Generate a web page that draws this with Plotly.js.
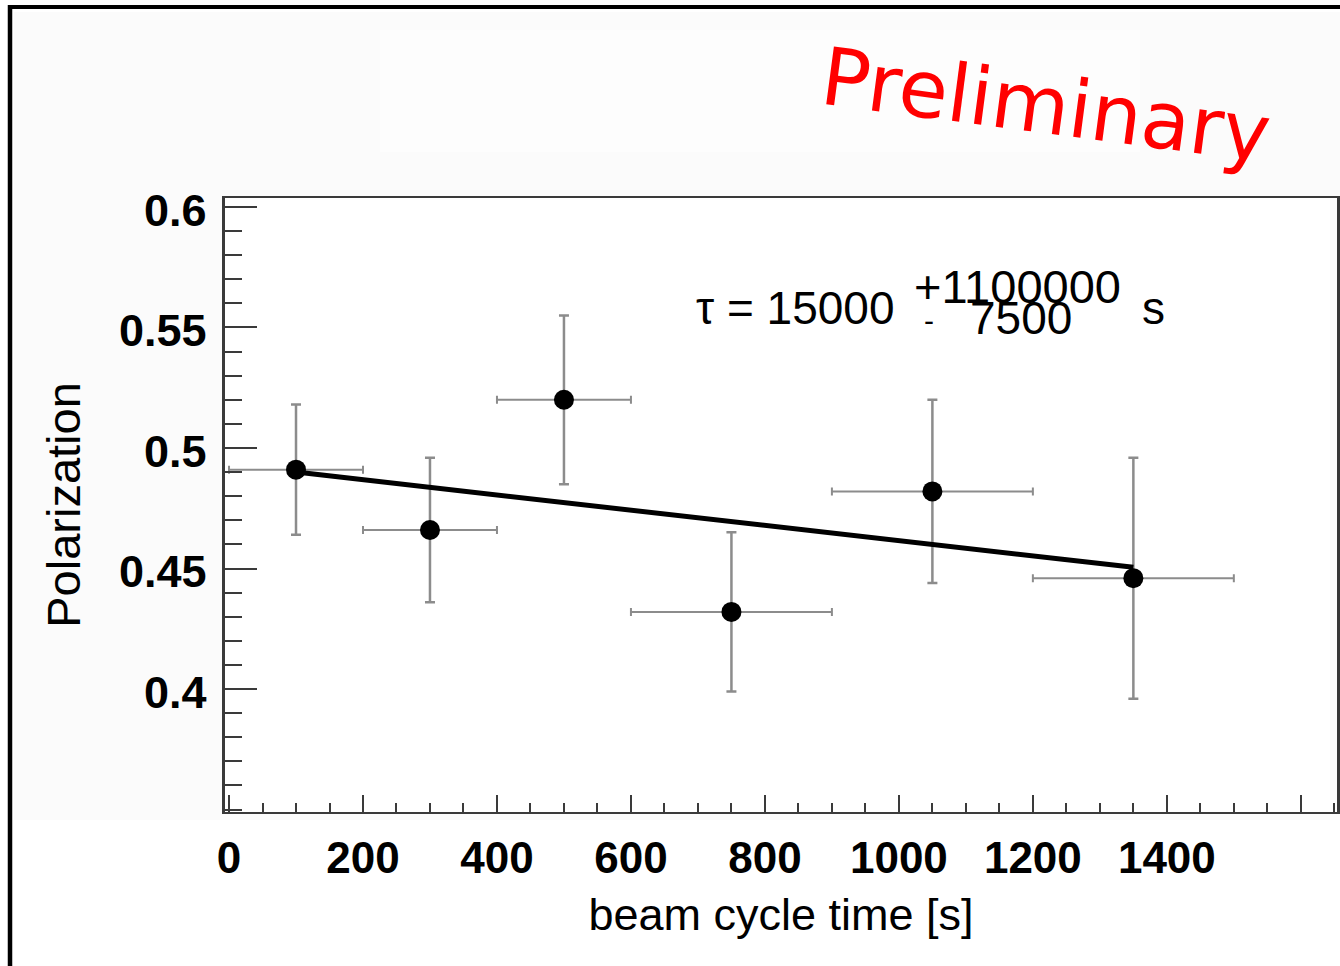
<!DOCTYPE html>
<html>
<head>
<meta charset="utf-8">
<script src="https://cdn.plot.ly/plotly-3.0.1.min.js"></script>
<style>
  html, body { margin: 0; padding: 0; background: #ffffff; }
  #chart { width: 1340px; height: 966px; }
</style>
</head>
<body>
<div id="chart"></div>
<script>
// ---- data ----
const cycleTime = [100, 300, 500, 750, 1050, 1350];          // bin centres [s]
const cycleHalfWidth = [100, 100, 100, 150, 150, 150];       // half bin widths [s]
const polarization = [0.491, 0.466, 0.520, 0.432, 0.482, 0.446];
const polarizationErr = [0.027, 0.030, 0.035, 0.033, 0.038, 0.050];

const fitTime = [100, 1350];
const fitPolarization = [0.490, 0.4505];

const xTickVals = [0, 200, 400, 600, 800, 1000, 1200, 1400, 1600];
const xTickText = ['0', '200', '400', '600', '800', '1000', '1200', '1400', ''];
const yTickVals = [0.4, 0.45, 0.5, 0.55, 0.6];
const yTickText = ['0.4', '0.45', '0.5', '0.55', '0.6'];

// ---- layout helpers (pixel -> paper) ----
const L = 225, R = 1337, T = 198, B = 812;
const px = v => (v - L) / (R - L);
const py = v => (B - v) / (B - T);

const axisColor = '#3a3a3a';
const sans = 'Liberation Sans, Arial, Helvetica, sans-serif';

const traces = [
  {
    x: cycleTime,
    y: polarization,
    type: 'scatter',
    mode: 'markers',
    marker: { color: '#000000', size: 20, symbol: 'circle' },
    error_x: { type: 'data', array: cycleHalfWidth, visible: true, color: '#8c8c8c', thickness: 2, width: 4 },
    error_y: { type: 'data', array: polarizationErr, visible: true, color: '#8c8c8c', thickness: 2.5, width: 5 },
    showlegend: false,
    hoverinfo: 'x+y'
  },
  {
    x: fitTime,
    y: fitPolarization,
    type: 'scatter',
    mode: 'lines',
    line: { color: '#000000', width: 5 },
    showlegend: false,
    hoverinfo: 'skip'
  }
];

const layout = {
  width: 1340,
  height: 966,
  margin: { l: L, r: 1340 - R, t: T, b: 966 - B, pad: 0 },
  paper_bgcolor: '#ffffff',
  plot_bgcolor: '#ffffff',
  showlegend: false,
  font: { family: sans, color: '#000000' },
  xaxis: {
    range: [-6, 1654],
    tickmode: 'array',
    tickvals: xTickVals,
    ticktext: xTickText,
    ticks: 'inside',
    ticklen: 17,
    tickwidth: 2,
    tickcolor: axisColor,
    minor: { dtick: 50, ticks: 'inside', ticklen: 9, tickwidth: 2, tickcolor: axisColor, showgrid: false },
    tickfont: { family: sans, size: 44, weight: 'bold', color: '#000000' },
    ticklabelstandoff: 6,
    showline: true,
    linecolor: axisColor,
    linewidth: 2,
    mirror: true,
    showgrid: false,
    zeroline: false,
    title: { text: 'beam cycle time [s]', font: { family: sans, size: 45, color: '#000000' }, standoff: 18 },
    automargin: false
  },
  yaxis: {
    range: [0.349, 0.6037],
    tickmode: 'array',
    tickvals: yTickVals,
    ticktext: yTickText,
    ticks: 'inside',
    ticklen: 32,
    tickwidth: 2,
    tickcolor: axisColor,
    minor: { dtick: 0.01, ticks: 'inside', ticklen: 17, tickwidth: 2, tickcolor: axisColor, showgrid: false },
    tickfont: { family: sans, size: 45, weight: 'bold', color: '#000000' },
    ticklabelstandoff: 6,
    ticklabelshift: 3,
    showline: true,
    linecolor: axisColor,
    linewidth: 3.5,
    mirror: true,
    showgrid: false,
    zeroline: false,
    title: { text: 'Polarization', font: { family: sans, size: 47, color: '#000000' }, standoff: 24 },
    automargin: false
  },
  shapes: [
    // faint canvas background
    { type: 'rect', xref: 'paper', yref: 'paper', x0: px(14), x1: px(1340), y0: py(12), y1: py(820),
      fillcolor: '#fbfbfb', line: { width: 0 }, layer: 'below' },
    { type: 'rect', xref: 'paper', yref: 'paper', x0: px(380), x1: px(1140), y0: py(30), y1: py(152),
      fillcolor: '#fdfdfd', line: { width: 0 }, layer: 'below' },
    // white plot frame interior
    { type: 'rect', xref: 'paper', yref: 'paper', x0: 0, x1: 1, y0: 0, y1: 1,
      fillcolor: '#ffffff', line: { width: 0 }, layer: 'below' },
    // outer frame (top and left)
    { type: 'line', xref: 'paper', yref: 'paper', x0: px(8), x1: px(1345), y0: py(7), y1: py(7),
      line: { color: '#000000', width: 4 } },
    { type: 'line', xref: 'paper', yref: 'paper', x0: px(10), x1: px(10), y0: py(5), y1: py(975),
      line: { color: '#000000', width: 4.5 } }
  ],
  annotations: [
    { xref: 'paper', yref: 'paper', x: px(1046), y: py(106), xanchor: 'center', yanchor: 'middle',
      text: 'Preliminary', showarrow: false, textangle: 7.5,
      font: { family: 'DejaVu Sans, sans-serif', size: 80, color: '#ff0000' } },
    { xref: 'paper', yref: 'paper', x: px(694), y: py(308), xanchor: 'left', yanchor: 'middle',
      text: 'τ = 15000', showarrow: false,
      font: { family: sans, size: 46, color: '#000000' } },
    { xref: 'paper', yref: 'paper', x: px(912), y: py(286), xanchor: 'left', yanchor: 'middle',
      text: '+1100000', showarrow: false,
      font: { family: sans, size: 47, color: '#000000' } },
    { xref: 'paper', yref: 'paper', x: px(922), y: py(320), xanchor: 'left', yanchor: 'middle',
      text: '-', showarrow: false,
      font: { family: sans, size: 30, color: '#000000' } },
    { xref: 'paper', yref: 'paper', x: px(968), y: py(318), xanchor: 'left', yanchor: 'middle',
      text: '7500', showarrow: false,
      font: { family: sans, size: 46, color: '#000000' } },
    { xref: 'paper', yref: 'paper', x: px(1140), y: py(308), xanchor: 'left', yanchor: 'middle',
      text: 's', showarrow: false,
      font: { family: sans, size: 46, color: '#000000' } }
  ]
};

Plotly.newPlot('chart', traces, layout, { staticPlot: true, displayModeBar: false });
</script>
</body>
</html>
